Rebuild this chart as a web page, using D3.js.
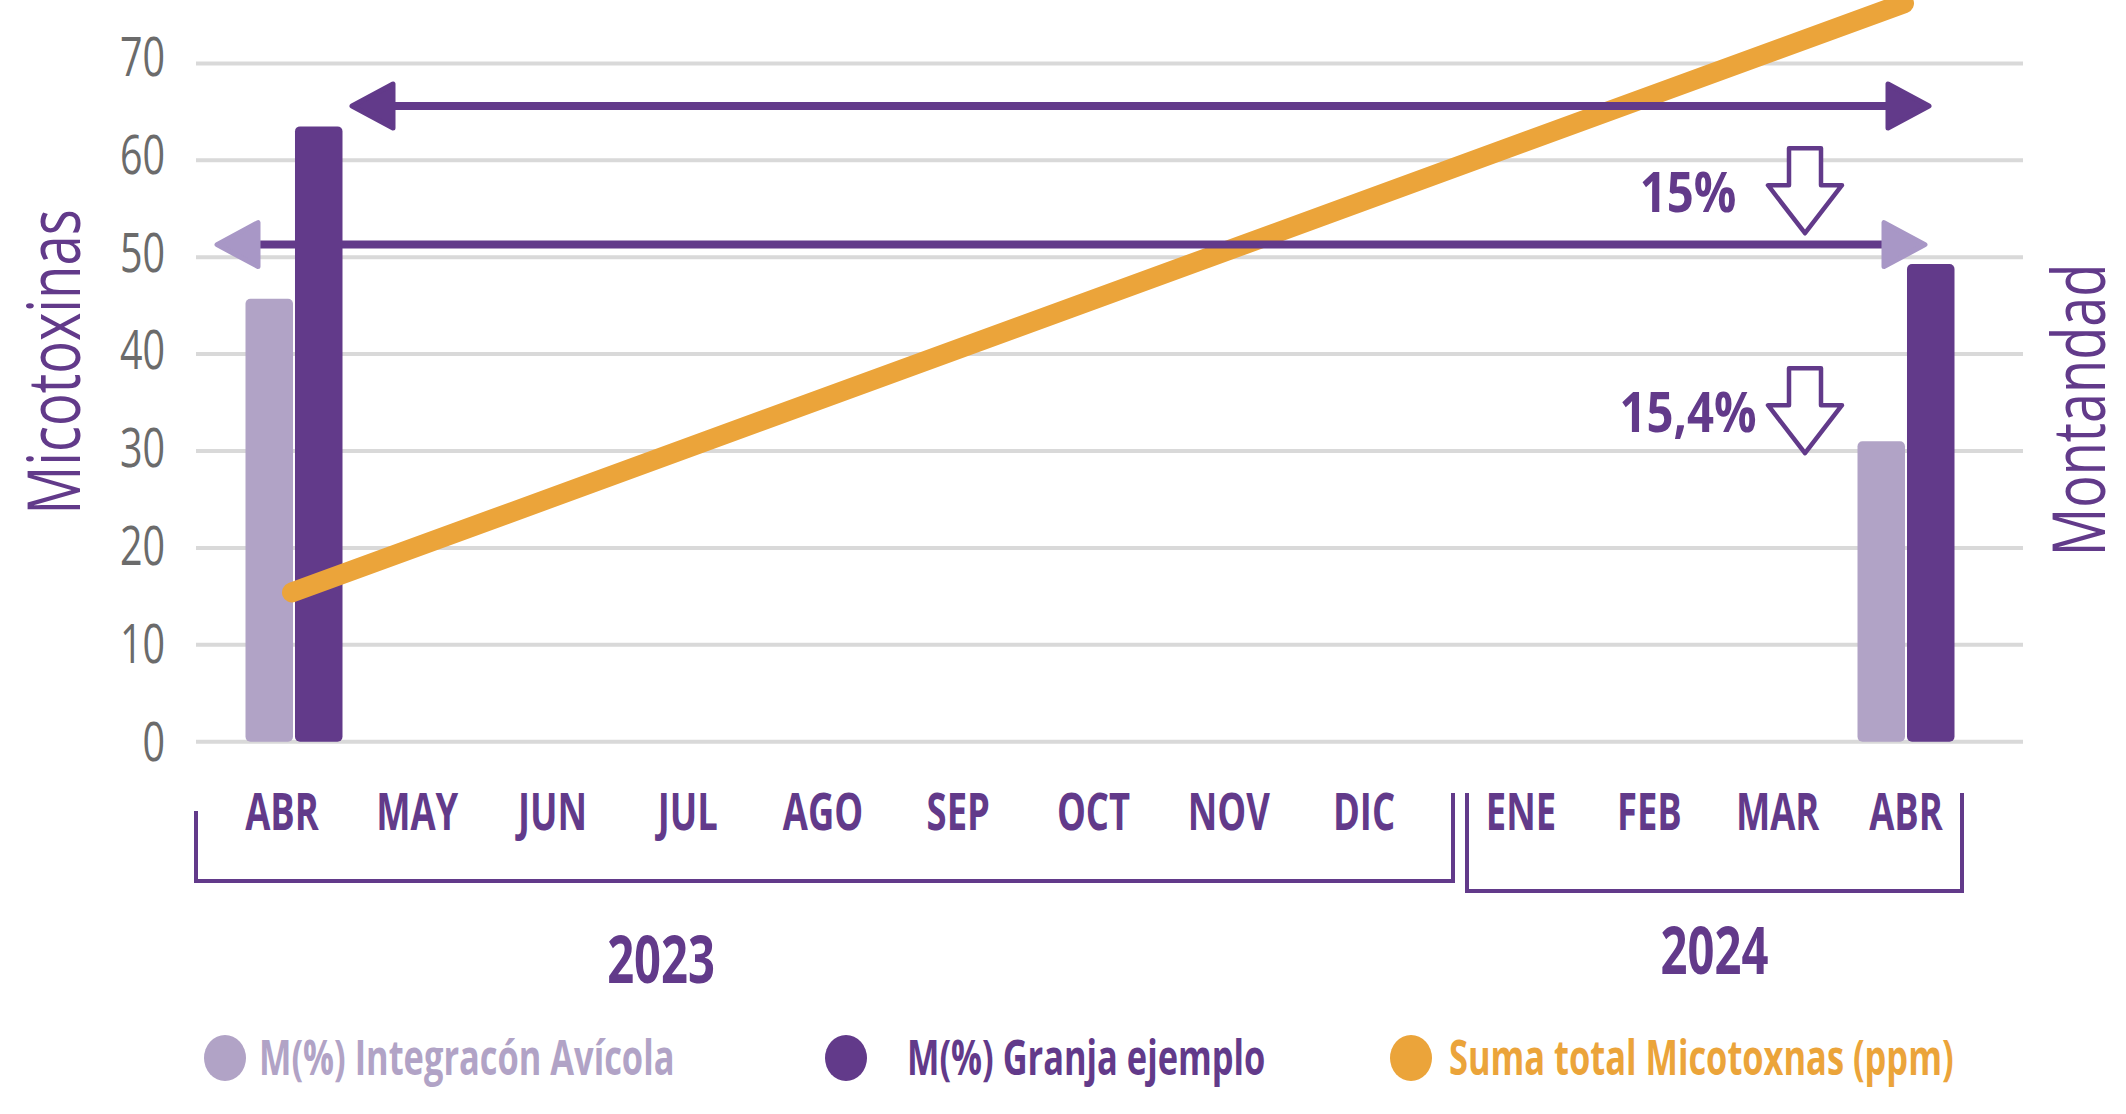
<!DOCTYPE html>
<html>
<head>
<meta charset="utf-8">
<script src="https://cdn.jsdelivr.net/npm/d3@7/dist/d3.min.js"></script>
<style>
  html, body { margin: 0; padding: 0; background: #ffffff; }
  svg { display: block; }
</style>
</head>
<body>
<svg id="chart" width="2126" height="1114"></svg>
<script>
// ---------------- DATA ----------------
const months = ["ABR", "MAY", "JUN", "JUL", "AGO", "SEP", "OCT", "NOV", "DIC", "ENE", "FEB", "MAR", "ABR"];
const monthYears = [2023, 2023, 2023, 2023, 2023, 2023, 2023, 2023, 2023, 2024, 2024, 2024, 2024];
const yearLabels = ["2023", "2024"];
const yTicks = [0, 10, 20, 30, 40, 50, 60, 70];

// bars only at the first and last month (indices into months)
const barMonthIdx = [0, 12];
const integracionAvicola = [45.7, 31.0];   // M(%) Integracón Avícola
const granjaEjemplo = [63.5, 49.3];        // M(%) Granja ejemplo

// orange line (Suma total Micotoxnas)
const lineMonthIdx = [0, 12];
const sumaTotal = [15.4, 76.2];

// reference arrows (levels)
const arrowLevels = [65.6, 51.3];
// percent annotations
const pctLabels = ["15%", "15,4%"];
const pctLevels = [56.6, 33.9];

const seriesNames = ["M(%) Integracón Avícola", "M(%) Granja ejemplo", "Suma total Micotoxnas (ppm)"];
const yTitleLeft = "Micotoxinas";
const yTitleRight = "Montandad";

// ---------------- STYLE ----------------
const C_LIGHT = "#b1a3c6";
const C_DARK = "#623a8a";
const C_ARROW_LIGHT = "#a897c6";
const C_ORANGE = "#eba43a";
const C_GRID = "#d9d9d9";
const C_TICK = "#6b6b6b";
const COND = 0.70;

const svg = d3.select("#chart");

const gridLeft = 196, gridRight = 2023;
const y = d3.scaleLinear().domain([0, 70]).range([741.7, 63.4]);
const yLab = d3.scaleLinear().domain([0, 70]).range([741.7, 57]);
const keys = months.map((m, i) => i);
const x = d3.scalePoint().domain(keys).range([294, 1906]);
// month label scales, one per year group
const idx2023 = keys.filter(i => monthYears[i] === 2023);
const idx2024 = keys.filter(i => monthYears[i] === 2024);
const xLab23 = d3.scalePoint().domain(idx2023).range([282, 1364]);
const xLab24 = d3.scalePoint().domain(idx2024).range([1521, 1906]);
const xLab = i => monthYears[i] === 2023 ? xLab23(i) : xLab24(i);
const inner = d3.scaleBand().domain([0, 1]).range([-48.5, 48.5]).paddingInner(0.04);

function ctext(sel, px, py, str, o) {
  return sel.append("text")
    .attr("transform", `translate(${px},${py})` + (o.rotate ? ` rotate(${o.rotate})` : "") + ` scale(${o.sx || COND},1)`)
    .attr("x", 0).attr("y", 0)
    .attr("text-anchor", o.anchor || "middle")
    .attr("font-family", o.family || "'Open Sans', sans-serif")
    .attr("font-weight", o.weight || 700)
    .attr("font-size", o.size)
    .attr("fill", o.fill)
    .text(str);
}

// gridlines
svg.append("g").selectAll("line").data(yTicks).join("line")
  .attr("x1", gridLeft).attr("x2", gridRight)
  .attr("y1", d => y(d)).attr("y2", d => y(d))
  .attr("stroke", C_GRID).attr("stroke-width", 4);

// y tick labels
const tg = svg.append("g");
yTicks.forEach(v => ctext(tg, 165, yLab(v) + 19, String(v), {anchor: "end", weight: 400, size: 54, fill: C_TICK, sx: 0.73}));

// axis titles
ctext(svg, 80, 362, yTitleLeft, {rotate: -90, weight: 400, size: 74, fill: C_DARK, sx: 0.735});
ctext(svg, 2105, 410, yTitleRight, {rotate: -90, weight: 400, size: 74, fill: C_DARK, sx: 0.73});

// bars
const barData = [];
barMonthIdx.forEach((mi, i) => {
  barData.push({m: mi, s: 0, v: integracionAvicola[i]});
  barData.push({m: mi, s: 1, v: granjaEjemplo[i]});
});
svg.append("g").selectAll("rect").data(barData).join("rect")
  .attr("x", d => x(d.m) + inner(d.s))
  .attr("width", inner.bandwidth())
  .attr("y", d => y(d.v))
  .attr("height", d => y(0) - y(d.v))
  .attr("rx", 5)
  .attr("fill", d => d.s === 0 ? C_LIGHT : C_DARK);

// orange line
const lineData = lineMonthIdx.map((mi, i) => ({m: mi, v: sumaTotal[i]}));
svg.append("path")
  .datum(lineData)
  .attr("d", d3.line().x(d => x(d.m) - 2).y(d => y(d.v)))
  .attr("fill", "none")
  .attr("stroke", C_ORANGE)
  .attr("stroke-width", 20)
  .attr("stroke-linecap", "round");

// double-headed arrows
function arrowHead(g, tipX, yy, dir, color) {
  const L = 41, hh = 22;
  const bx = tipX - dir * L;
  g.append("path")
    .attr("d", `M${tipX},${yy} L${bx},${yy - hh} L${bx},${yy + hh} Z`)
    .attr("fill", color).attr("stroke", color)
    .attr("stroke-width", 5).attr("stroke-linejoin", "round");
}
const ag = svg.append("g");
const arrowSpecs = [
  {lv: arrowLevels[0], x1: x(0) + 58, x2: x(12) + 23, head: C_DARK},
  {lv: arrowLevels[1], x1: x(0) - 77, x2: x(12) + 19, head: C_ARROW_LIGHT}
];
arrowSpecs.forEach(a => {
  const yy = y(a.lv);
  ag.append("line")
    .attr("x1", a.x1 + 35).attr("x2", a.x2 - 35)
    .attr("y1", yy).attr("y2", yy)
    .attr("stroke", C_DARK).attr("stroke-width", 8);
  arrowHead(ag, a.x1, yy, -1, a.head);
  arrowHead(ag, a.x2, yy, 1, a.head);
});

// percent annotations with hollow down arrows
const pg = svg.append("g");
pctLabels.forEach((lab, i) => {
  const cy = y(pctLevels[i]);
  ctext(pg, 1688, cy + 19, lab, {size: 55, fill: C_DARK, sx: 0.86});
  const cx = 1805, top = cy - 45, sw = 16, hw = 37, headTop = cy - 8, tip = cy + 40;
  pg.append("path")
    .attr("d", `M${cx - sw},${top} L${cx + sw},${top} L${cx + sw},${headTop} L${cx + hw},${headTop} L${cx},${tip} L${cx - hw},${headTop} L${cx - sw},${headTop} Z`)
    .attr("fill", "#ffffff").attr("stroke", C_DARK)
    .attr("stroke-width", 4.5).attr("stroke-linejoin", "round");
});

// month labels
const mg = svg.append("g");
months.forEach((m, i) => ctext(mg, xLab(i), 830, m, {size: 52, fill: C_DARK}));

// year brackets
const splitX = xLab(9) - 68;
const brackets = [
  {x1: gridLeft, x2: splitX, yTopL: 811, yTopR: 793, yb: 881, labelX: gridLeft + 0.37 * (splitX - gridLeft), labelY: 983},
  {x1: splitX + 14, x2: xLab(12) + 56, yTopL: 793, yTopR: 793, yb: 891, labelX: null, labelY: 974}
];
const bg = svg.append("g");
brackets.forEach((b, i) => {
  bg.append("path")
    .attr("d", `M${b.x1},${b.yTopL} L${b.x1},${b.yb} L${b.x2},${b.yb} L${b.x2},${b.yTopR}`)
    .attr("fill", "none").attr("stroke", C_DARK).attr("stroke-width", 4);
  const lx = b.labelX !== null ? b.labelX : (b.x1 + b.x2) / 2;
  ctext(bg, lx, b.labelY, yearLabels[i], {size: 66, fill: C_DARK, sx: 0.715});
});

// legend
const legendColors = [C_LIGHT, C_DARK, C_ORANGE];
const legendX = [225, 846, 1411];
const legendGap = [34, 61, 38];
const lg = svg.append("g");
seriesNames.forEach((n, i) => {
  lg.append("ellipse").attr("cx", legendX[i]).attr("cy", 1058).attr("rx", 21).attr("ry", 23).attr("fill", legendColors[i]);
  ctext(lg, legendX[i] + legendGap[i], 1075, n, {anchor: "start", size: 48, fill: legendColors[i], sx: 0.717});
});
</script>
</body>
</html>
